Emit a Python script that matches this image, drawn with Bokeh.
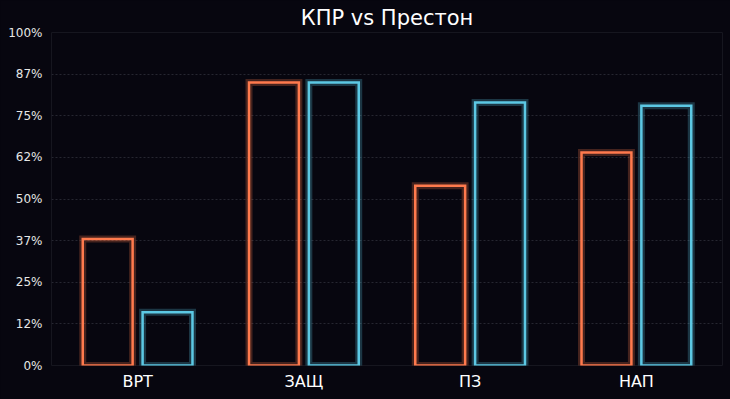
from bokeh.plotting import figure
from bokeh.models import ColumnDataSource, FactorRange, Range1d, FixedTicker, CustomJSTickFormatter
from bokeh.transform import dodge
from bokeh.embed import file_html
from bokeh.resources import INLINE

categories = ["ВРТ", "ЗАЩ", "ПЗ", "НАП"]
kpr = [38, 85, 54, 64]
preston = [16, 85, 79, 78]
y_ticks = [0, 12.5, 25, 37.5, 50, 62.5, 75, 87.5, 100]

BG = "#07060f"
ORANGE = "#ff7a4d"
BLUE = "#5cc8e4"

src = ColumnDataSource(dict(cat=categories, kpr=kpr, preston=preston))

p = figure(x_range=FactorRange(*categories, range_padding=0.009), y_range=Range1d(0, 100),
           width=730, height=399, output_backend="svg", toolbar_location=None,
           title="КПР vs Престон", min_border_left=51, min_border_right=8,
           min_border_top=32, min_border_bottom=34)
p.background_fill_color = BG
p.border_fill_color = BG
p.outline_line_color = "#16161f"

p.title.align = "center"
p.title.standoff = 5
p.title.text_color = "white"
p.title.text_font = "DejaVu Sans"
p.title.text_font_size = "21px"
p.title.text_font_style = "normal"

bw = 0.30
for field, off, col in [("kpr", -0.18, ORANGE), ("preston", 0.18, BLUE)]:
    x = dodge("cat", off, range=p.x_range)
    p.vbar(x=x, top=field, width=bw, source=src, fill_color=None,
           line_color=col, line_width=7, line_alpha=0.25, line_join="miter")
    p.vbar(x=x, top=field, width=bw, source=src, fill_color=None,
           line_color=col, line_width=2.5, line_join="miter")

p.yaxis.ticker = FixedTicker(ticks=y_ticks)
p.yaxis.formatter = CustomJSTickFormatter(code="return Math.floor(tick) + '%';")
for ax in (p.xaxis[0], p.yaxis[0]):
    ax.axis_line_color = None
    ax.major_tick_line_color = None
    ax.minor_tick_line_color = None
    ax.major_tick_out = 0
    ax.major_tick_in = 0
p.yaxis.major_label_standoff = 9
p.yaxis.major_label_text_color = "#e6e6e6"
p.yaxis.major_label_text_font = "DejaVu Sans"
p.yaxis.major_label_text_font_size = "12px"
p.xaxis.major_label_standoff = 6
p.xaxis.major_label_text_color = "white"
p.xaxis.major_label_text_font = "DejaVu Sans"
p.xaxis.major_label_text_font_size = "16px"

p.xgrid.grid_line_color = None
p.ygrid.grid_line_color = "#262631"
p.ygrid.grid_line_dash = "2 2"
p.ygrid.grid_line_width = 1

html = file_html(p, INLINE)
html = html.replace("<head>", "<head><style>body{background:%s;}</style>" % BG, 1)
open("out.html", "w").write(html)
